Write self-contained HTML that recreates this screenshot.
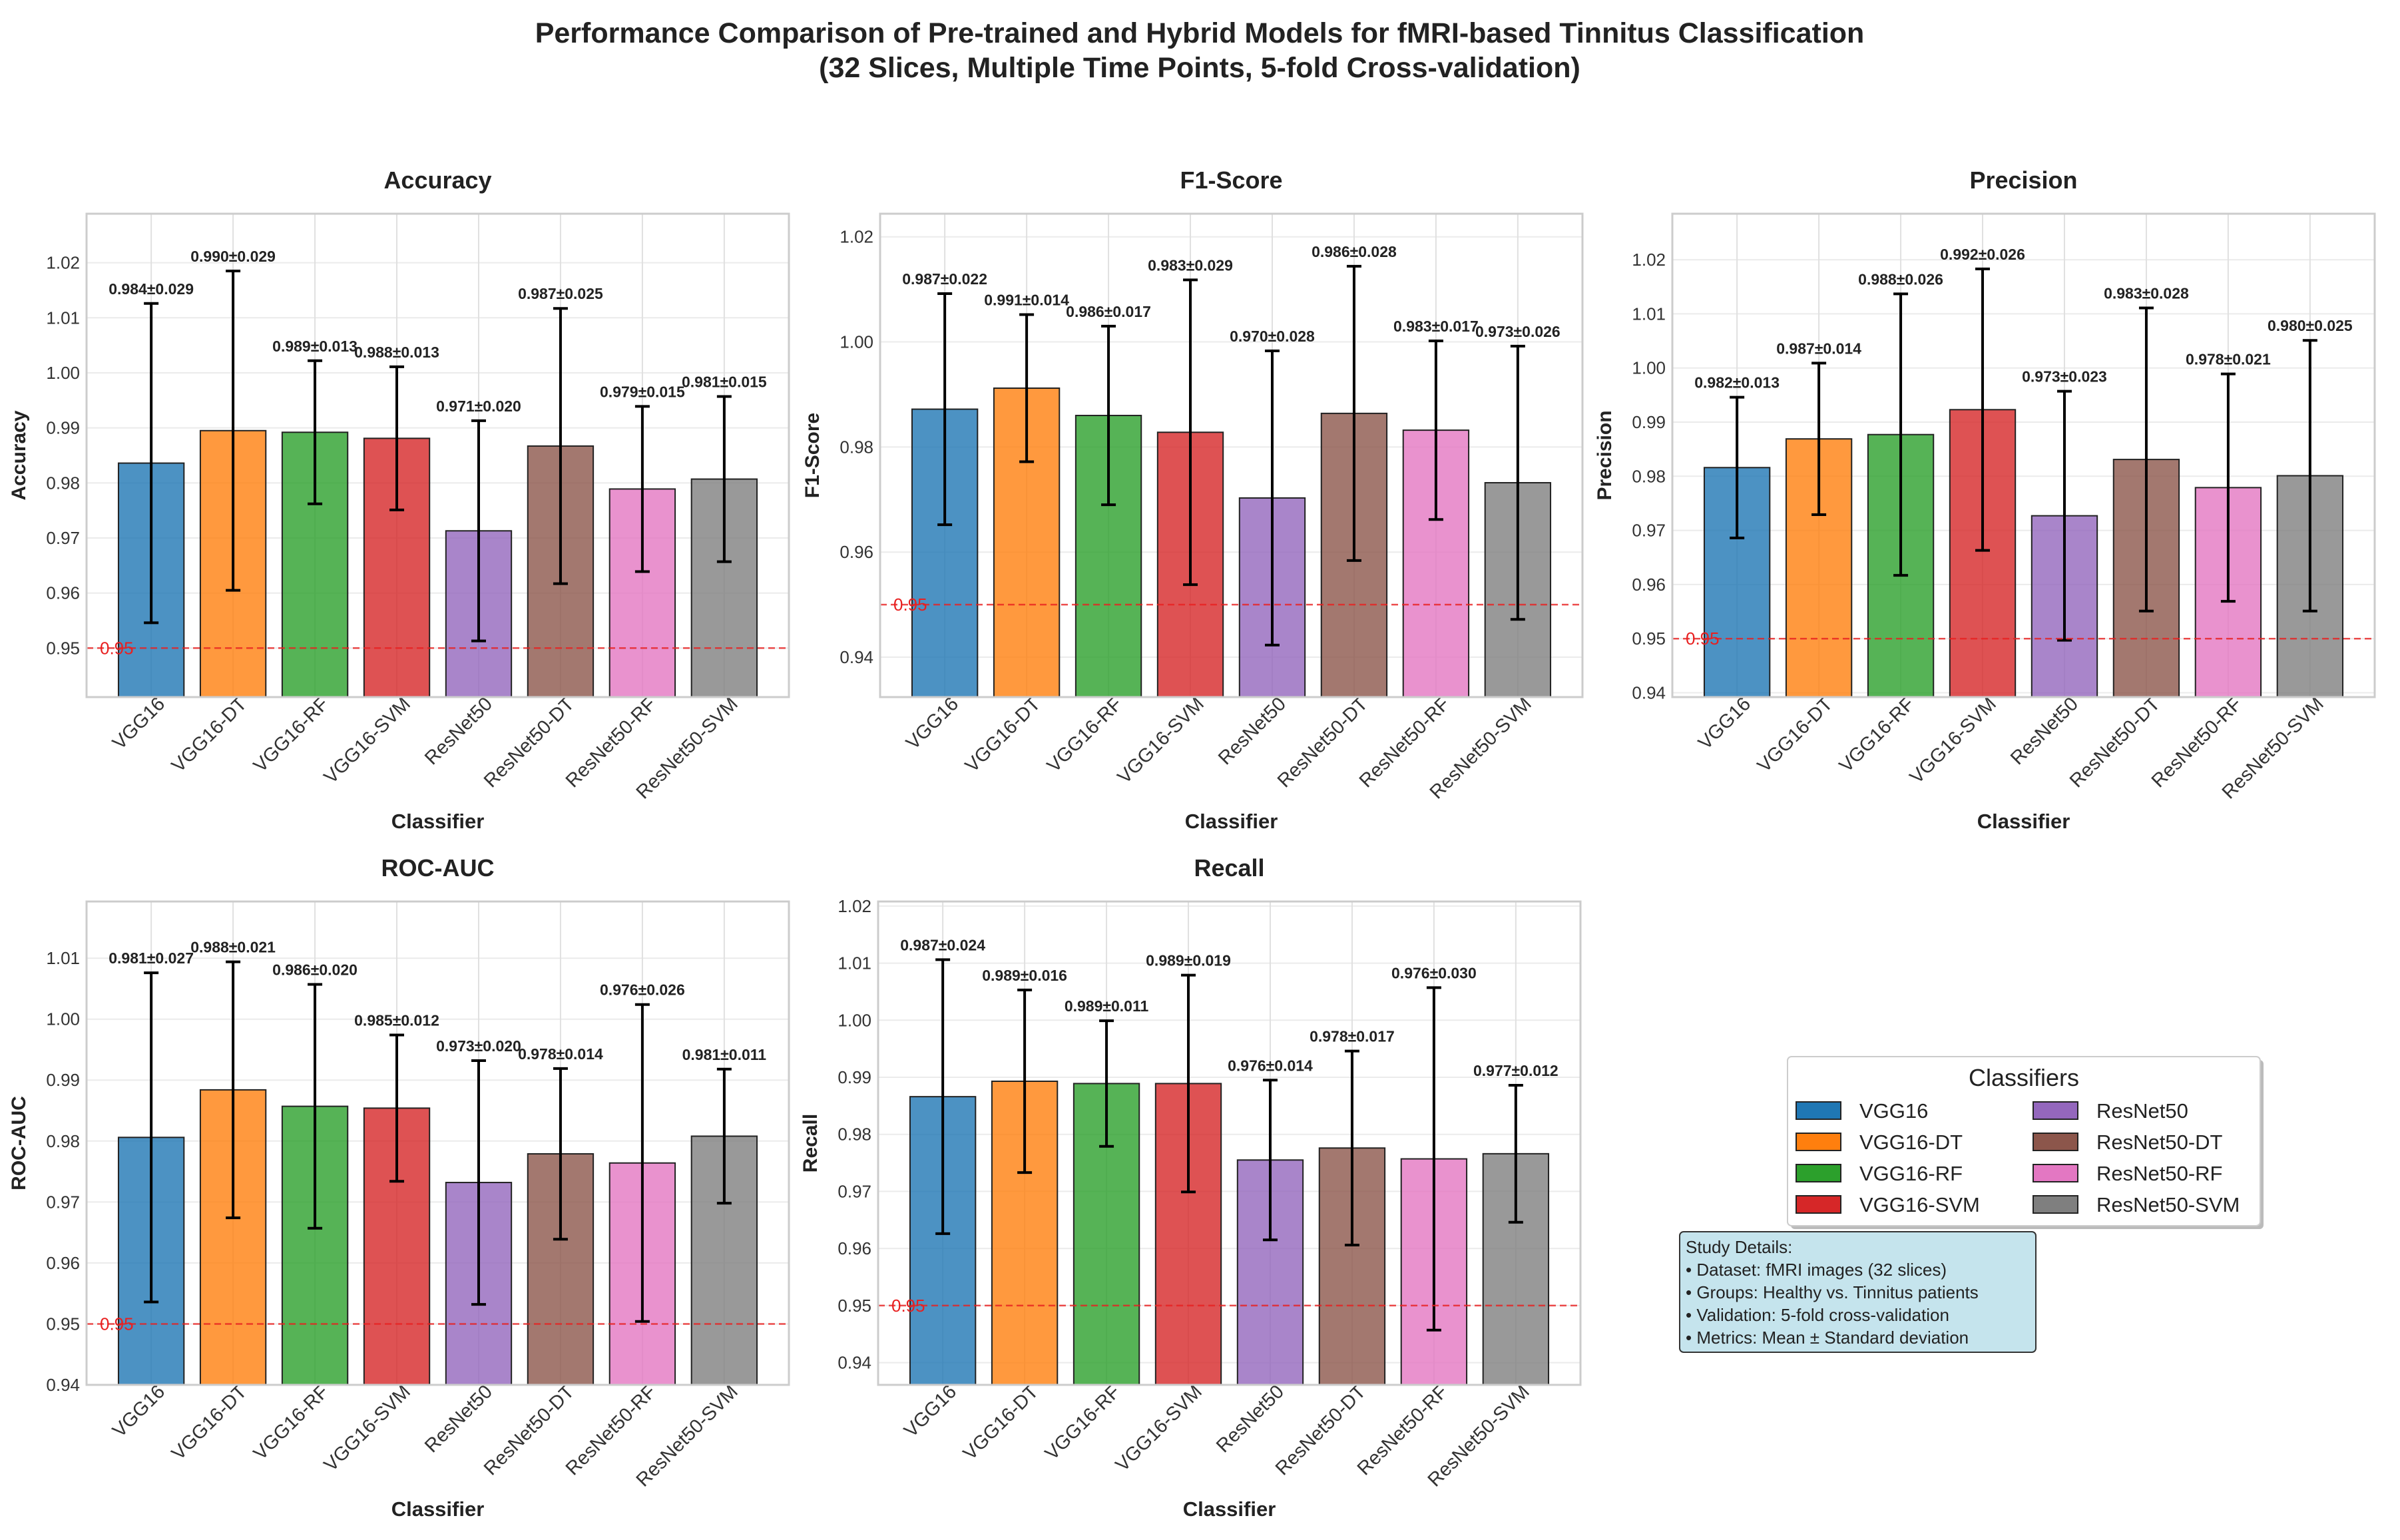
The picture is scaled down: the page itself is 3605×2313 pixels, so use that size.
<!DOCTYPE html>
<html><head><meta charset="utf-8"><style>
html,body{margin:0;padding:0;background:#fff;}
svg{display:block;font-family:"Liberation Sans",Arial,sans-serif;}
</style></head><body>
<svg id="fig" width="3605" height="2313" viewBox="0 0 3605 2313" xmlns="http://www.w3.org/2000/svg">
<rect width="3605" height="2313" fill="#fff"/>
<text x="1802" y="64" text-anchor="middle" font-size="43" font-weight="bold" fill="#222">Performance Comparison of Pre-trained and Hybrid Models for fMRI-based Tinnitus Classification</text>
<text x="1802" y="116" text-anchor="middle" font-size="43" font-weight="bold" fill="#222">(32 Slices, Multiple Time Points, 5-fold Cross-validation)</text>
<g id="charts"></g>
<g>
<rect x="2690" y="1592" width="710" height="254" fill="#bbb" rx="6"/>
<rect x="2685" y="1587" width="710" height="254" fill="#fff" stroke="#ccc" stroke-width="2" rx="6"/>
<text x="3040" y="1631" text-anchor="middle" font-size="36" fill="#222">Classifiers</text>
<g id="legend-items"></g>
</g>
<g>
<rect x="2523" y="1850" width="535" height="181" rx="6" fill="#add8e6" fill-opacity="0.7" stroke="#333" stroke-width="2"/>
<text font-size="26" fill="#222">
<tspan x="2532" y="1882">Study Details:</tspan>
<tspan x="2532" y="1916">• Dataset: fMRI images (32 slices)</tspan>
<tspan x="2532" y="1950">• Groups: Healthy vs. Tinnitus patients</tspan>
<tspan x="2532" y="1984">• Validation: 5-fold cross-validation</tspan>
<tspan x="2532" y="2018">• Metrics: Mean ± Standard deviation</tspan>
</text>
</g>
</svg>
<script>
const classifiers = ["VGG16","VGG16-DT","VGG16-RF","VGG16-SVM","ResNet50","ResNet50-DT","ResNet50-RF","ResNet50-SVM"];
const colors = ["#1f77b4","#ff7f0e","#2ca02c","#d62728","#9467bd","#8c564b","#e377c2","#7f7f7f"];
const accMean = [0.9836,0.9895,0.9892,0.9881,0.9713,0.9867,0.9789,0.9807];
const accStd  = [0.029,0.029,0.013,0.013,0.020,0.025,0.015,0.015];
const f1Mean  = [0.9872,0.9912,0.9860,0.9828,0.9703,0.9864,0.9832,0.9732];
const f1Std   = [0.022,0.014,0.017,0.029,0.028,0.028,0.017,0.026];
const precMean= [0.9816,0.9869,0.9877,0.9923,0.9727,0.9831,0.9779,0.9801];
const precStd = [0.013,0.014,0.026,0.026,0.023,0.028,0.021,0.025];
const rocMean = [0.9806,0.9884,0.9857,0.9854,0.9732,0.9779,0.9764,0.9808];
const rocStd  = [0.027,0.021,0.020,0.012,0.020,0.014,0.026,0.011];
const recMean = [0.9866,0.9893,0.9889,0.9889,0.9755,0.9776,0.9757,0.9766];
const recStd  = [0.024,0.016,0.011,0.019,0.014,0.017,0.030,0.012];
const accTicks = [0.95,0.96,0.97,0.98,0.99,1.00,1.01,1.02];
const f1Ticks = [0.94,0.96,0.98,1.00,1.02];
const precTicks = [0.94,0.95,0.96,0.97,0.98,0.99,1.00,1.01,1.02];
const rocTicks = [0.94,0.95,0.96,0.97,0.98,0.99,1.00,1.01];
const recTicks = [0.94,0.95,0.96,0.97,0.98,0.99,1.00,1.01,1.02];

const panels = [
 {name:"accuracy",title:"Accuracy",ylabel:"Accuracy",mean:accMean,std:accStd,ticks:accTicks,ymin:0.9411,ymax:1.0289,x:130,y:321},
 {name:"f1-score",title:"F1-Score",ylabel:"F1-Score",mean:f1Mean,std:f1Std,ticks:f1Ticks,ymin:0.9324,ymax:1.0244,x:1322,y:321},
 {name:"precision",title:"Precision",ylabel:"Precision",mean:precMean,std:precStd,ticks:precTicks,ymin:0.9392,ymax:1.0285,x:2512,y:321},
 {name:"roc-auc",title:"ROC-AUC",ylabel:"ROC-AUC",mean:rocMean,std:rocStd,ticks:rocTicks,ymin:0.94,ymax:1.0193,x:130,y:1354},
 {name:"recall",title:"Recall",ylabel:"Recall",mean:recMean,std:recStd,ticks:recTicks,ymin:0.9361,ymax:1.0208,x:1319,y:1354}
];
const W=1055,H=726;
const NS="http://www.w3.org/2000/svg";
function mk(tag,attrs,parent,txt){const e=document.createElementNS(NS,tag);for(const k in attrs)e.setAttribute(k,attrs[k]);if(txt!==undefined)e.textContent=txt;parent.appendChild(e);return e;}
const root=document.getElementById("charts");
panels.forEach(p=>{
  const g=mk("g",{},root);
  
  
  const xs=i=>p.x+(i+0.79)/8.58*W;
  const ys=v=>p.y+H-(v-p.ymin)/(p.ymax-p.ymin)*H;
  const bw=0.8/8.58*W;
  mk("rect",{x:p.x,y:p.y,width:W,height:H,fill:"#fff"},g);
  p.ticks.forEach(t=>{
    const y=ys(t);
    mk("line",{x1:p.x,x2:p.x+W,y1:y,y2:y,stroke:"#ebebeb","stroke-width":2},g);
    const tl=mk("text",{x:p.x-10,y:y+9,"text-anchor":"end","font-size":26,fill:"#333"},g,t.toFixed(2));
    
    
  });
  classifiers.forEach((c,i)=>{
    mk("line",{x1:xs(i),x2:xs(i),y1:p.y,y2:p.y+H,stroke:"#e0e0e0","stroke-width":2},g);
  });
  classifiers.forEach((c,i)=>{
    const m=p.mean[i],s=p.std[i];
    const b=mk("rect",{x:xs(i)-bw/2,y:ys(m),width:bw,height:p.y+H-ys(m),fill:colors[i],"fill-opacity":0.8,stroke:"#222","stroke-width":2},g);
    
    
    const top=ys(m+s),bot=ys(m-s);
    const eb=mk("g",{stroke:"#000","stroke-width":4},g);
    
    
    mk("line",{x1:xs(i),x2:xs(i),y1:top,y2:bot},eb);
    mk("line",{x1:xs(i)-11,x2:xs(i)+11,y1:top,y2:top},eb);
    mk("line",{x1:xs(i)-11,x2:xs(i)+11,y1:bot,y2:bot},eb);
    const vl=mk("text",{x:xs(i),y:top-14,"text-anchor":"middle","font-size":23,"font-weight":"bold",fill:"#222"},g,m.toFixed(3)+"±"+s.toFixed(3));
    
    
    const xl=mk("text",{x:0,y:0,"text-anchor":"end","font-size":29,fill:"#333",transform:`translate(${xs(i)+22},${p.y+H+12}) rotate(-45)`},g,c);
    
    
  });
  const ry=ys(0.95);
  const rl=mk("line",{x1:p.x,x2:p.x+W,y1:ry,y2:ry,stroke:"#e82020","stroke-width":2.5,"stroke-dasharray":"10,6","stroke-opacity":0.8},g);
  
  
  mk("text",{x:p.x+20,y:ry+9,"font-size":26,fill:"#e82020"},g,"0.95");
  mk("rect",{x:p.x,y:p.y,width:W,height:H,fill:"none",stroke:"#ccc","stroke-width":3},g);
  const t=mk("text",{x:p.x+W/2,y:p.y-38,"text-anchor":"middle","font-size":36,"font-weight":"bold",fill:"#222"},g,p.title);
  
  
  const yl=mk("text",{x:0,y:0,"text-anchor":"middle","font-size":30,"font-weight":"bold",fill:"#222",transform:`translate(${p.x-92},${p.y+H/2}) rotate(-90)`},g,p.ylabel);
  
  
  const xt=mk("text",{x:p.x+W/2,y:p.y+H+197,"text-anchor":"middle","font-size":31,"font-weight":"bold",fill:"#222"},g,"Classifier");
  
  
});
const lg=document.getElementById("legend-items");
classifiers.forEach((c,i)=>{
  const col=Math.floor(i/4),row=i%4;
  const px=col?3054:2698,tx=col?3149:2793,y=1668+row*47;
  const e=mk("g",{},lg);
  
  
  mk("rect",{x:px,y:y-13,width:67,height:26,fill:colors[i],stroke:"#222","stroke-width":2},e);
  mk("text",{x:tx,y:y+11,"font-size":31,fill:"#222"},e,c);
});
</script>
</body></html>
